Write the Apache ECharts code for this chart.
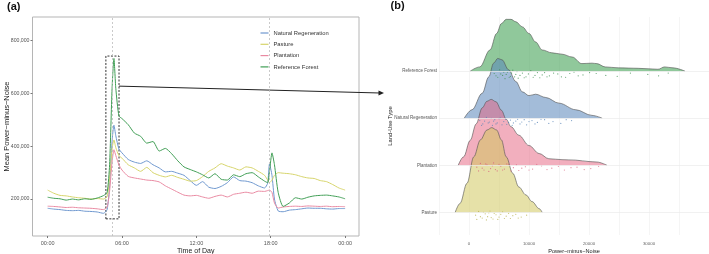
<!DOCTYPE html>
<html>
<head>
<meta charset="utf-8">
<style>
  html, body { margin: 0; padding: 0; background: #fff; }
  #main { width: 709px; height: 254px; }
</style>
<script src="https://cdn.jsdelivr.net/npm/echarts@6/dist/echarts.min.js"></script>
</head>
<body>
<div id="main"></div>
<script>
// ---- panel (a): mean power-minus-noise over the day (values in thousands) ----
var hours = [0, 0.5, 1, 1.5, 2, 2.5, 3, 3.5, 4, 4.5, 4.8, 5.0, 5.2, 5.35, 5.5, 5.75,
  6, 6.5, 7, 7.5, 8, 8.5, 9, 9.5, 10, 10.5, 11, 11.5, 12, 12.5, 13, 13.5, 14, 14.5,
  15, 15.5, 16, 16.5, 17, 17.5, 17.75, 17.9, 18.1, 18.3, 18.6, 19, 19.5, 20, 20.5,
  21, 21.5, 22, 22.5, 23, 23.5, 24]
var naturalRegen = [165, 162, 160, 157, 156, 157, 154, 153, 151, 146, 160, 250, 420, 480, 440, 390,
  375, 350, 340, 335, 345, 330, 318, 303, 305, 298, 290, 270, 252, 266, 245, 240, 248, 262,
  284, 270, 268, 262, 250, 242, 260, 333, 290, 200, 155, 152, 158, 160, 163,
  166, 165, 165, 163, 162, 164, 164]
var pasture = [234, 222, 214, 212, 208, 205, 203, 200, 202, 200, 210, 280, 390, 424, 395, 365,
  355, 330, 318, 305, 320, 300, 290, 284, 290, 282, 275, 268, 270, 285, 305, 318, 334, 325,
  318, 310, 322, 318, 305, 290, 272, 262, 272, 290, 300, 298, 296, 292, 285,
  280, 278, 270, 266, 255, 242, 234]
var plantation = [173, 172, 170, 168, 169, 167, 166, 165, 163, 160, 170, 230, 340, 387, 365, 330,
  310, 286, 280, 276, 272, 270, 265, 250, 238, 226, 215, 212, 214, 208, 203, 210, 215, 208,
  218, 222, 226, 222, 230, 229, 232, 234, 225, 185, 166, 170, 172, 173, 172,
  174, 173, 172, 173, 171, 172, 171]
var refForest = [207, 203, 201, 196, 200, 197, 201, 199, 204, 213, 225, 330, 620, 733, 620, 515,
  505, 482, 450, 438, 412, 418, 382, 392, 372, 345, 322, 312, 303, 292, 280, 296, 275, 272,
  292, 285, 296, 300, 284, 268, 262, 305, 375, 330, 225, 172, 185, 205, 200,
  207, 212, 214, 215, 212, 208, 201]

var timeTicks = [0, 6, 12, 18, 24]
var timeLabels = ['00:00', '06:00', '12:00', '18:00', '00:00']
var powerTicks = [200000, 400000, 600000, 800000]
var sunLines = [5.25, 17.86]          // dotted sunrise / sunset lines
var peakBox = [4.7, 5.76, 125000, 742000]

// ---- panel (b): density ridges, x = power-minus-noise, h = ridge height ----
var landUse = ['Pasture', 'Plantation', 'Natural Regeneration', 'Reference Forest']

var pastureX = [-2300, -1500, -330, 800, 1900, 3000, 3800, 4600, 5400, 6200, 7300, 8300, 9500, 10500, 11700, 12200]
var pastureH = [0, 0.19, 0.62, 1.18, 1.54, 1.75, 1.80, 1.75, 1.54, 1.18, 0.83, 0.54, 0.37, 0.23, 0.08, 0]
var plantX = [-1800, -900, 200, 1200, 2200, 3000, 3700, 4500, 5400, 6200, 7000, 8300, 10000, 11700, 13300, 15500, 17800, 20000, 21300, 23000]
var plantH = [0, 0.18, 0.53, 0.88, 1.22, 1.36, 1.40, 1.35, 1.17, 0.98, 0.82, 0.64, 0.42, 0.25, 0.14, 0.12, 0.11, 0.08, 0.07, 0]
var natRegX = [-800, 500, 2200, 3300, 4100, 4800, 5500, 6600, 7800, 8900, 10000, 11100, 12800, 15000, 17800, 20500, 22200]
var natRegH = [0, 0.18, 0.53, 0.88, 1.17, 1.27, 1.24, 1.03, 0.78, 0.56, 0.48, 0.51, 0.44, 0.32, 0.18, 0.06, 0]
var forestX = [200, 1800, 3500, 4600, 5400, 6200, 7000, 7800, 8900, 10000, 11100, 12200, 13800, 15500, 17200, 18800, 20500, 21300, 22700, 24900, 28200, 31500, 32600, 34000, 36000]
var forestH = [0, 0.09, 0.45, 0.80, 1.01, 1.10, 1.10, 1.05, 0.94, 0.80, 0.62, 0.45, 0.39, 0.36, 0.30, 0.16, 0.17, 0.16, 0.09, 0.07, 0.06, 0.04, 0.09, 0.07, 0]

// jittered observations under each ridge: [value, vertical offset]
var pasturePts = [[1100, -0.06], [1300, -0.15], [1600, 0.02], [1900, -0.09], [2200, -0.12], [2400, 0.0],
  [2700, -0.03], [2900, -0.16], [3100, -0.09], [3300, -0.01], [3500, 0.03], [3700, -0.11], [4000, -0.14],
  [4200, -0.02], [4500, -0.05], [4800, -0.15], [5000, -0.1], [5300, -0.04], [5600, 0.01], [5900, -0.13],
  [6200, -0.08], [6600, -0.02], [6900, -0.13], [7300, -0.07], [7800, -0.04], [8200, -0.12], [8700, -0.1], [9600, -0.06]]
var plantPts = [[1300, -0.04], [1600, -0.12], [1900, 0.04], [2200, -0.06], [2500, -0.1], [2800, 0.03],
  [3000, 0.01], [3300, -0.13], [3600, -0.07], [3900, -0.01], [4100, 0.05], [4400, -0.09], [4700, -0.12],
  [5000, 0.02], [5300, -0.02], [5600, -0.1], [5900, -0.08], [6300, 0.03], [6600, 0.02], [7000, -0.12],
  [7400, -0.05], [7900, 0.01], [8300, -0.11], [8800, -0.06], [9400, -0.03], [10000, -0.1], [10600, -0.08],
  [11300, 0.02], [12100, -0.01], [13000, -0.09], [13800, -0.06], [14900, -0.02], [15900, -0.1], [17000, -0.05],
  [18000, -0.04], [19200, -0.09], [20300, -0.07], [21600, -0.02]]
var natRegPts = [[1800, -0.05], [2100, -0.15], [2300, -0.12], [2600, -0.06], [2900, 0.02], [3200, -0.1],
  [3400, -0.08], [3700, 0.0], [3900, -0.15], [4100, -0.06], [4300, -0.03], [4500, -0.12], [4700, -0.1],
  [5000, -0.01], [5200, 0.01], [5500, -0.14], [5800, -0.07], [6100, -0.02], [6300, -0.13], [6600, -0.09],
  [6900, -0.04], [7200, -0.15], [7400, -0.1], [7800, -0.06], [8100, -0.02], [8500, -0.12], [8800, -0.08],
  [9200, -0.03], [9600, -0.14], [10000, -0.07], [10500, -0.05], [11000, -0.12], [11400, -0.09], [12000, -0.02],
  [12600, -0.03], [13300, -0.11], [14000, -0.07], [15300, -0.11], [16200, -0.03], [17100, -0.05]]
var forestPts = [[4200, -0.05], [4500, -0.1], [4800, -0.13], [5100, 0.03], [5300, -0.06], [5600, -0.09],
  [5800, -0.02], [6000, -0.16], [6200, -0.07], [6400, -0.02], [6700, -0.13], [6900, -0.11], [7100, -0.04],
  [7300, 0.02], [7600, -0.12], [7800, -0.07], [8000, -0.01], [8200, -0.15], [8500, -0.09], [8900, -0.04],
  [9200, -0.14], [9500, -0.12], [9900, -0.06], [10300, 0.01], [10700, -0.13], [11000, -0.09], [11400, -0.03],
  [11800, -0.14], [12200, -0.08], [12600, -0.03], [13000, -0.12], [13400, -0.1], [14100, -0.04], [14800, -0.06],
  [15400, -0.12], [16100, -0.13], [16800, -0.05], [17500, -0.02], [18200, -0.1], [19000, -0.08], [20100, -0.03],
  [21200, -0.05], [22800, -0.09], [24700, -0.11], [26900, -0.04], [29800, -0.07], [31600, -0.1], [33200, -0.04]]

var pnTicks = [0, 10000, 20000, 30000]

var lineColors = {
  'Natural Regeneration': '#6f98cf',
  'Pasture': '#d6d46a',
  'Plantation': '#e98aa2',
  'Reference Forest': '#409e55'
}
var ridgeFill = ['rgba(210,200,97,0.55)', 'rgba(230,95,126,0.5)', 'rgba(88,133,186,0.55)', 'rgba(53,155,73,0.55)']
var pointColor = ['#b9b352', '#d9607d', '#5a86b8', '#3e8f50']

var font = 'Liberation Sans, Arial, sans-serif'
var chart = echarts.init(document.getElementById('main'))

function zip(xs, ys, k) {
  return xs.map(function (x, i) { return [x, ys[i] * (k || 1)] })
}

var lineSeries = [
  ['Natural Regeneration', naturalRegen],
  ['Pasture', pasture],
  ['Plantation', plantation],
  ['Reference Forest', refForest]
].map(function (s) {
  return {
    name: s[0],
    type: 'line',
    xAxisIndex: 0,
    yAxisIndex: 0,
    data: zip(hours, s[1], 1000),
    showSymbol: false,
    smooth: 0.2,
    lineStyle: { width: 1, color: lineColors[s[0]] },
    itemStyle: { color: lineColors[s[0]] },
    z: 3
  }
})
// dotted sun lines + dashed box around the dawn peak
lineSeries[3].markLine = {
  silent: true,
  symbol: 'none',
  label: { show: false },
  lineStyle: { color: '#bdbdbd', type: [2, 2], width: 0.8 },
  data: sunLines.map(function (h) { return { xAxis: h } })
}
lineSeries[3].markArea = {
  silent: true,
  itemStyle: { color: 'rgba(0,0,0,0)', borderColor: '#333', borderWidth: 1, borderType: [2, 1.5] },
  data: [[{ xAxis: peakBox[0], yAxis: peakBox[2] }, { xAxis: peakBox[1], yAxis: peakBox[3] }]]
}

var ridges = [[pastureX, pastureH], [plantX, plantH], [natRegX, natRegH], [forestX, forestH]]
// draw from the back (top ridge) to the front (bottom ridge)
var ridgeSeries = []
for (var i = 3; i >= 0; i--) {
  ridgeSeries.push({
    name: 'ridge ' + landUse[i],
    type: 'line',
    xAxisIndex: 1,
    yAxisIndex: 2 + i,
    data: zip(ridges[i][0], ridges[i][1]),
    smooth: 0.35,
    smoothMonotone: 'x',
    showSymbol: false,
    silent: true,
    lineStyle: { width: 0.6, color: '#4f4f4f' },
    areaStyle: { color: ridgeFill[i], opacity: 1 },
    z: 2 + (3 - i) * 0.1
  })
}

var pts = [pasturePts, plantPts, natRegPts, forestPts]
var pointSeries = pts.map(function (p, i) {
  return {
    name: 'points ' + landUse[i],
    type: 'scatter',
    xAxisIndex: 1,
    yAxisIndex: 1,
    silent: true,
    symbolSize: 1.2,
    itemStyle: { color: pointColor[i], opacity: 0.8 },
    data: p.map(function (d) { return [d[0], i + d[1]] }),
    z: 4
  }
})

// faint horizontal baseline gridlines of the ridge panel
var baseGrid = {
  name: 'baselines',
  type: 'scatter',
  xAxisIndex: 1,
  yAxisIndex: 1,
  data: [],
  silent: true,
  z: 1,
  markLine: {
    silent: true,
    symbol: 'none',
    label: { show: false },
    lineStyle: { color: '#ebebeb', type: 'solid', width: 0.7 },
    data: [0, 1, 2, 3].map(function (v) { return { yAxis: v } })
  }
}

var ridgeYAxes = [0, 1, 2, 3].map(function (i) {
  return { gridIndex: 1, type: 'value', min: -0.48 - i, max: 4.15 - i, show: false,
    axisLine: { onZero: false }, splitLine: { show: false } }
})

chart.setOption({
  animation: false,
  textStyle: { fontFamily: font },
  title: [
    { text: '(a)', left: 7, top: 1.5, padding: 0, textStyle: { fontSize: 11, fontWeight: 'bold', color: '#111', fontFamily: font } },
    { text: '(b)', left: 390.5, top: 0, padding: 0, textStyle: { fontSize: 11, fontWeight: 'bold', color: '#111', fontFamily: font } }
  ],
  legend: {
    data: ['Natural Regeneration', 'Pasture', 'Plantation', 'Reference Forest'],
    orient: 'vertical',
    left: 260.5,
    top: 30,
    padding: 0,
    icon: 'rect',
    itemWidth: 8,
    itemHeight: 1.2,
    itemGap: 5.3,
    textStyle: { fontSize: 5.8, color: '#333', fontFamily: font }
  },
  grid: [
    { left: 32.5, top: 17, width: 326.5, height: 219, show: true, borderColor: '#b5b5b5', borderWidth: 1,
      outerBoundsMode: 'none', containLabel: false },
    { left: 439, top: 17, width: 270, height: 218, outerBoundsMode: 'none', containLabel: false }
  ],
  xAxis: [
    {
      gridIndex: 0, type: 'value', min: -1.22, max: 25.12,
      name: 'Time of Day', nameLocation: 'middle', nameGap: 11.5, nameMoveOverlap: false,
      nameTextStyle: { fontSize: 7, color: '#222' },
      axisLine: { show: false, onZero: false },
      axisTick: { show: true, length: 2, lineStyle: { color: '#777' }, customValues: timeTicks },
      axisLabel: {
        fontSize: 5.5, color: '#555', margin: 4, customValues: timeTicks,
        formatter: function (v) { return timeLabels[timeTicks.indexOf(v)] }
      },
      splitLine: { show: false }
    },
    {
      gridIndex: 1, type: 'value', min: -5000, max: 40000, interval: 5000,
      name: 'Power\u2212minus\u2212Noise', nameLocation: 'middle', nameGap: 13.5, nameMoveOverlap: false,
      nameTextStyle: { fontSize: 5.6, color: '#222' },
      axisLine: { show: false, onZero: false },
      axisTick: { show: false },
      axisLabel: { fontSize: 4.4, color: '#666', margin: 7, customValues: pnTicks,
        formatter: function (v) { return String(v) } },
      splitLine: { show: true, lineStyle: { color: '#eeeeee', width: 0.6 } }
    }
  ],
  yAxis: [
    {
      gridIndex: 0, type: 'value', min: 60000, max: 890000,
      name: 'Mean Power\u2212minus\u2212Noise', nameLocation: 'middle', nameGap: 22, nameMoveOverlap: false,
      nameTextStyle: { fontSize: 7.5, color: '#222' },
      axisLine: { show: false, onZero: false },
      axisTick: { show: true, length: 2, lineStyle: { color: '#777' }, customValues: powerTicks },
      axisLabel: {
        fontSize: 5.2, color: '#555', margin: 3, customValues: powerTicks,
        formatter: function (v) { return v.toLocaleString('en-US') }
      },
      splitLine: { show: false }
    },
    {
      gridIndex: 1, type: 'value', min: -0.48, max: 4.15,
      name: 'Land-Use Type', nameLocation: 'middle', nameGap: 46, nameMoveOverlap: false,
      nameTextStyle: { fontSize: 5.8, color: '#222' },
      axisLine: { show: false, onZero: false },
      axisTick: { show: false },
      axisLabel: {
        fontSize: 4.5, color: '#555', margin: 2, customValues: [0, 1, 2, 3],
        formatter: function (v) { return landUse[v] }
      },
      splitLine: { show: false }
    }
  ].concat(ridgeYAxes),
  series: lineSeries.concat([baseGrid]).concat(ridgeSeries).concat(pointSeries)
})

// arrow from the dawn-peak box to the ridge panel
var arrowStart = chart.convertToPixel({ gridIndex: 0 }, [peakBox[1], 628000])
chart.setOption({
  graphic: [
    { type: 'line', silent: true, shape: { x1: arrowStart[0], y1: arrowStart[1], x2: 380, y2: 93 },
      style: { stroke: '#222', lineWidth: 1 } },
    { type: 'polygon', silent: true, shape: { points: [[384, 93.1], [378.5, 90.6], [378.5, 95.6]] },
      style: { fill: '#222' } }
  ]
})
</script>
</body>
</html>
